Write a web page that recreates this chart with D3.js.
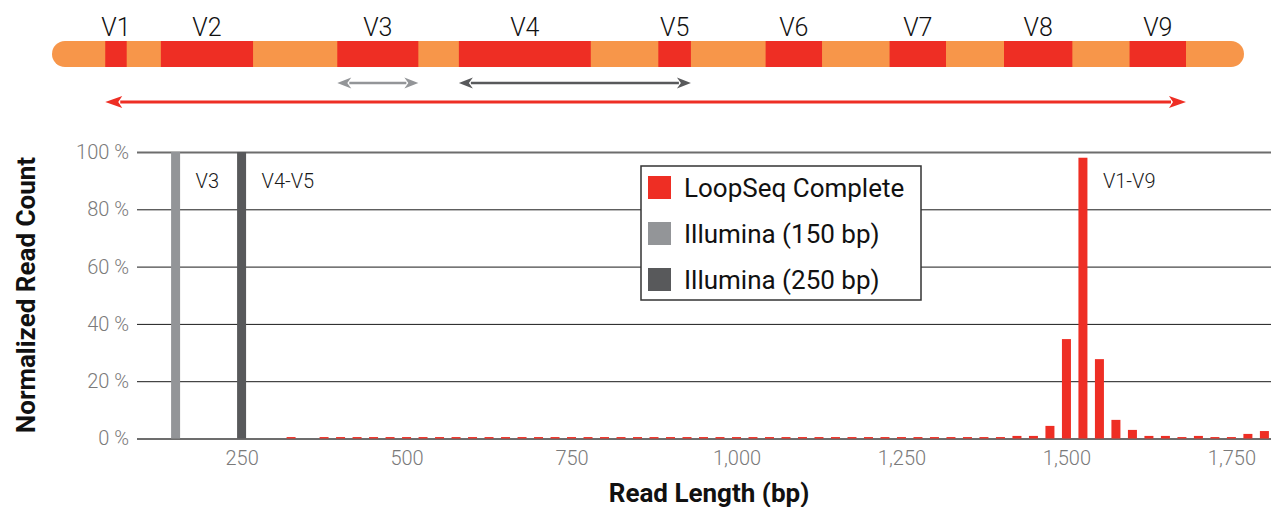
<!DOCTYPE html>
<html>
<head>
<meta charset="utf-8">
<script src="https://cdn.jsdelivr.net/npm/d3@7"></script>
<style>
  html, body { margin: 0; padding: 0; background: #fff; }
  svg { display: block; font-family: Roboto, "Noto Sans", sans-serif; }
</style>
</head>
<body>
<svg id="chart" width="1271" height="507"></svg>
<script>
// ---- 16S rRNA gene schematic (positions in nt along a 1500 nt gene) ----
const geneLength = 1500;
const regionNames = ["V1", "V2", "V3", "V4", "V5", "V6", "V7", "V8", "V9"];
const regionStart = [67, 137, 359, 512, 763, 898, 1054, 1198, 1356];
const regionEnd   = [94, 253, 461, 678, 804, 969, 1125, 1284, 1427];

// Amplicons covered by each platform: first and last variable region
const ampliconSeries = ["Illumina (150 bp)", "Illumina (250 bp)", "LoopSeq Complete"];
const ampliconFrom   = ["V3", "V4", "V1"];
const ampliconTo     = ["V3", "V5", "V9"];

// ---- Read length distribution ----
const readLengths = [
  325, 350, 375, 400, 425, 450, 475, 500, 525, 550, 575, 600, 625, 650, 675,
  700, 725, 750, 775, 800, 825, 850, 875, 900, 925, 950, 975, 1000, 1025, 1050,
  1075, 1100, 1125, 1150, 1175, 1200, 1225, 1250, 1275, 1300, 1325, 1350, 1375, 1400, 1425,
  1450, 1475, 1500, 1525, 1550, 1575, 1600, 1625, 1650, 1675, 1700, 1725, 1750, 1775, 1800
];
const loopSeqPct = [
  0.5, 0, 0.5, 0.5, 0.5, 0.5, 0.5, 0.5, 0.5, 0.5, 0.5, 0.5, 0.5, 0.5, 0.5,
  0.5, 0.5, 0.5, 0.5, 0.5, 0.5, 0.5, 0.5, 0.5, 0.5, 0.5, 0.5, 0.5, 0.5, 0.5,
  0.5, 0.5, 0.5, 0.5, 0.5, 0.5, 0.5, 0.5, 0.5, 0.5, 0.5, 0.5, 0.5, 0.5, 0.9,
  0.9, 4.4, 34.7, 98, 27.7, 6.5, 3.0, 0.9, 0.9, 0.5, 0.9, 0.5, 0.5, 1.6, 2.6
];
const illuminaLengths = [150, 250];
const illuminaPct     = [100, 100];
const illuminaLabels  = ["V3", "V4-V5"];
const illuminaSeries  = ["Illumina (150 bp)", "Illumina (250 bp)"];
const loopSeqLabel    = "V1-V9";

const xTicks = [250, 500, 750, 1000, 1250, 1500, 1750];
const yTicks = [0, 20, 40, 60, 80, 100];

const seriesNames  = ["LoopSeq Complete", "Illumina (150 bp)", "Illumina (250 bp)"];
const seriesColors = ["#EE2E24", "#939598", "#58595B"];

// ---- Setup ----
const svg = d3.select("#chart");
const color = d3.scaleOrdinal().domain(seriesNames).range(seriesColors);

// ---- Gene schematic ----
const gene = d3.scaleLinear().domain([0, geneLength]).range([52, 1244]);
const geneY = 41, geneH = 26;
const schematic = svg.append("g");

schematic.append("rect")
  .attr("x", gene(0)).attr("y", geneY)
  .attr("width", gene(geneLength) - gene(0)).attr("height", geneH)
  .attr("rx", geneH / 2)
  .attr("fill", "#F7964A");

const regions = regionNames.map((n, i) => ({ name: n, start: regionStart[i], end: regionEnd[i] }));
const regionByName = new Map(regions.map(r => [r.name, r]));

schematic.selectAll("rect.region").data(regions).join("rect")
  .attr("class", "region")
  .attr("x", d => gene(d.start)).attr("y", geneY)
  .attr("width", d => gene(d.end) - gene(d.start)).attr("height", geneH)
  .attr("fill", "#EE2E24");

schematic.selectAll("text.region").data(regions).join("text")
  .attr("class", "region")
  .attr("x", d => gene((d.start + d.end) / 2))
  .attr("y", 36)
  .attr("text-anchor", "middle")
  .attr("font-size", 25)
  .attr("font-weight", 300)
  .attr("fill", "#111")
  .text(d => d.name);

// Double-headed arrows for each amplicon
const amplicons = ampliconSeries.map((s, i) => ({
  series: s,
  x0: gene(regionByName.get(ampliconFrom[i]).start),
  x1: gene(regionByName.get(ampliconTo[i]).end),
  big: s === "LoopSeq Complete"
}));

amplicons.forEach(a => {
  const yy = a.big ? 102 : 83;
  const hl = a.big ? 17 : 14;   // head length
  const hw = a.big ? 6 : 5.5;   // head half-width
  const sw = a.big ? 3 : 2.5;
  const g = schematic.append("g").attr("fill", color(a.series)).attr("stroke", color(a.series));
  g.append("line")
    .attr("x1", a.x0 + hl - 2).attr("x2", a.x1 - hl + 2)
    .attr("y1", yy).attr("y2", yy)
    .attr("stroke-width", sw);
  g.append("path").attr("stroke", "none")
    .attr("d", `M${a.x0},${yy} L${a.x0 + hl},${yy - hw} L${a.x0 + hl - 4},${yy} L${a.x0 + hl},${yy + hw} Z`);
  g.append("path").attr("stroke", "none")
    .attr("d", `M${a.x1},${yy} L${a.x1 - hl},${yy - hw} L${a.x1 - hl + 4},${yy} L${a.x1 - hl},${yy + hw} Z`);
});

// ---- Histogram ----
const x = d3.scaleLinear().domain([90, 1810]).range([136, 1271]);
const y = d3.scaleLinear().domain([0, 100]).range([438.5, 152]);
const plotLeft = 137, plotRight = 1271;
const barW = 9;

// y axis with gridlines
const yAxis = svg.append("g")
  .attr("transform", `translate(${plotLeft},0)`)
  .call(d3.axisLeft(y).tickValues(yTicks).tickSize(-(plotRight - plotLeft)).tickPadding(8)
    .tickFormat(d => d + " %"));
yAxis.select(".domain").remove();
yAxis.selectAll(".tick line")
  .attr("stroke", d => (d === 0 || d === 100) ? "#6d6d6d" : "#1a1a1a")
  .attr("stroke-width", d => (d === 0 || d === 100) ? 2 : 1);
yAxis.selectAll(".tick text")
  .attr("font-size", 20).attr("font-weight", 300).attr("fill", "#7a7a7a")
  .attr("font-family", "Roboto, sans-serif");

// x axis labels
const xAxis = svg.append("g")
  .attr("transform", `translate(0,${y(0)})`)
  .call(d3.axisBottom(x).tickValues(xTicks).tickSize(0).tickPadding(12)
    .tickFormat(d3.format(",")));
xAxis.select(".domain").remove();
xAxis.selectAll(".tick text")
  .attr("font-size", 20).attr("font-weight", 300).attr("fill", "#7a7a7a")
  .attr("font-family", "Roboto, sans-serif");

// Illumina bars
const illumina = illuminaLengths.map((len, i) => ({
  len, pct: illuminaPct[i], label: illuminaLabels[i], series: illuminaSeries[i]
}));
svg.append("g").selectAll("rect").data(illumina).join("rect")
  .attr("x", d => x(d.len) - barW / 2)
  .attr("y", d => y(d.pct))
  .attr("width", barW)
  .attr("height", d => y(0) - y(d.pct))
  .attr("fill", d => color(d.series));

// LoopSeq bars
const loop = readLengths.map((len, i) => ({ len, pct: loopSeqPct[i] }));
svg.append("g").selectAll("rect").data(loop.filter(d => d.pct > 0)).join("rect")
  .attr("x", d => x(d.len) - barW / 2)
  .attr("y", d => y(d.pct))
  .attr("width", barW)
  .attr("height", d => y(0) - y(d.pct))
  .attr("fill", color("LoopSeq Complete"));

// Region labels next to the peaks
const peak = loop.reduce((a, b) => (b.pct > a.pct ? b : a));
const peakLabels = illumina.map(d => ({ len: d.len, label: d.label }))
  .concat([{ len: peak.len, label: loopSeqLabel }]);
svg.append("g").selectAll("text").data(peakLabels).join("text")
  .attr("x", d => x(d.len) + 20)
  .attr("y", 188)
  .attr("font-size", 20).attr("font-weight", 300).attr("fill", "#1a1a1a")
  .text(d => d.label);

// Legend
const lg = svg.append("g").attr("transform", "translate(641,166)");
lg.append("rect").attr("width", 280).attr("height", 134)
  .attr("fill", "#fff").attr("stroke", "#333").attr("stroke-width", 1.5);
const items = lg.selectAll("g.item").data(seriesNames).join("g")
  .attr("class", "item")
  .attr("transform", (d, i) => `translate(7,${10 + i * 46})`);
items.append("rect").attr("width", 23).attr("height", 23).attr("fill", d => color(d));
items.append("text").attr("x", 36).attr("y", 11.5).attr("dy", "0.35em")
  .attr("font-size", 26).attr("fill", "#111").text(d => d);

// Axis titles
svg.append("text")
  .attr("transform", "translate(35,295) rotate(-90)")
  .attr("text-anchor", "middle")
  .attr("font-size", 26).attr("font-weight", 700).attr("fill", "#111")
  .text("Normalized Read Count");
svg.append("text")
  .attr("x", 709).attr("y", 502)
  .attr("text-anchor", "middle")
  .attr("font-size", 26).attr("font-weight", 700).attr("fill", "#111")
  .text("Read Length (bp)");
</script>
</body>
</html>
